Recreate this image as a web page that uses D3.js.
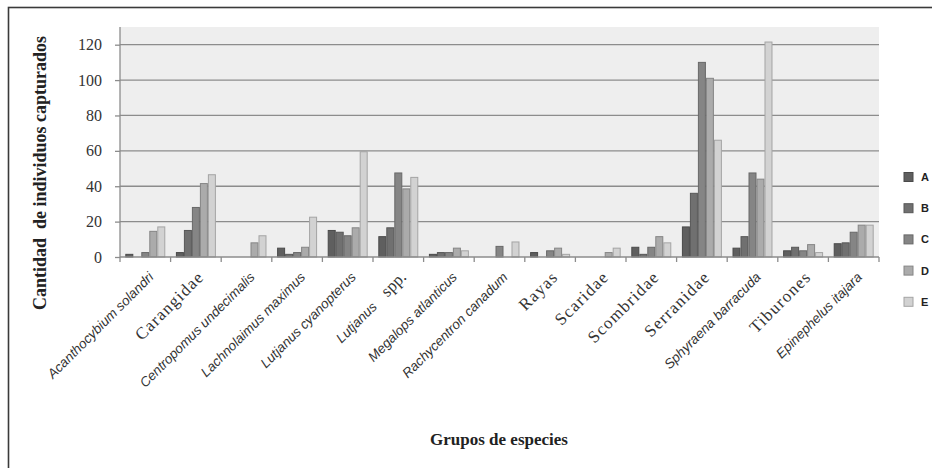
<!DOCTYPE html>
<html>
<head>
<meta charset="utf-8">
<script src="https://cdn.jsdelivr.net/npm/d3@7/dist/d3.min.js"></script>
<style>
  html, body { margin: 0; padding: 0; background: #fff; }
  svg { display: block; }
</style>
</head>
<body>
<svg id="chart" width="932" height="468"></svg>
<script>
// Captured individuals per species group, five sampling series (A–E)
const categories = [
  "Acanthocybium solandri", "Carangidae", "Centropomus undecimalis",
  "Lachnolaimus maximus", "Lutjanus cyanopterus", "Lutjanus spp.",
  "Megalops atlanticus", "Rachycentron canadum", "Rayas", "Scaridae",
  "Scombridae", "Serranidae", "Sphyraena barracuda", "Tiburones",
  "Epinephelus itajara"
];
const seriesNames = ["A", "B", "C", "D", "E"];
const valuesA = [1.5, 2.5, 0, 5, 15, 11.5, 1.5, 0, 2.5, 0, 5.5, 17, 5, 3.5, 7.5];
const valuesB = [0, 15, 0, 1.5, 14, 16.5, 2.5, 0, 0, 0, 1.5, 36, 11.5, 5.5, 8];
const valuesC = [2.5, 28, 0, 2.5, 12, 47.5, 2.5, 6, 3.5, 0, 5.5, 110, 47.5, 3.5, 14];
const valuesD = [14.5, 41.5, 8, 5.5, 16.5, 38.5, 5, 0, 5, 2.5, 11.5, 101, 44, 7, 18];
const valuesE = [17, 46.5, 12, 22.5, 59.5, 45, 3.5, 8.5, 1.5, 5, 8, 66, 121.5, 2.5, 18];
const yTicks = [0, 20, 40, 60, 80, 100, 120];
const yTitle = "Cantidad\u00a0 de individuos capturados";
const xTitle = "Grupos de especies";

const seriesValues = [valuesA, valuesB, valuesC, valuesD, valuesE];
const fills = ["#5f5f5f", "#707070", "#858585", "#ababab", "#d2d2d2"];

const svg = d3.select("#chart");
const W = 932, H = 468;
const plot = { left: 120, right: 879, top: 27, bottom: 257 };

// outer frame
svg.append("rect")
  .attr("x", 8.5).attr("y", 7.5)
  .attr("width", W + 10).attr("height", H + 10)
  .attr("fill", "#fff").attr("stroke", "#3a3a3a").attr("stroke-width", 1.6);

// plot background
svg.append("rect")
  .attr("x", plot.left).attr("y", plot.top)
  .attr("width", plot.right - plot.left).attr("height", plot.bottom - plot.top)
  .attr("fill", "#eeeeee");

const x0 = d3.scaleBand().domain(categories)
  .range([plot.left, plot.right]).paddingInner(0.21).paddingOuter(0.105);
const x1 = d3.scaleBand().domain(seriesNames).range([0, x0.bandwidth()]);
const y = d3.scaleLinear().domain([0, 130]).range([plot.bottom, plot.top]);

// horizontal gridlines
svg.append("g").selectAll("line").data(yTicks.filter(t => t > 0)).join("line")
  .attr("x1", plot.left).attr("x2", plot.right)
  .attr("y1", d => y(d)).attr("y2", d => y(d))
  .attr("stroke", "#8c8c8c").attr("stroke-width", 1.3);

// bars
const rows = [];
categories.forEach((c, i) => {
  seriesNames.forEach((s, j) => rows.push({ c, s, j, v: seriesValues[j][i] }));
});
svg.append("g").selectAll("rect").data(rows.filter(d => d.v > 0)).join("rect")
  .attr("x", d => x0(d.c) + x1(d.s) + 0.5)
  .attr("y", d => y(d.v))
  .attr("width", x1.bandwidth() - 1)
  .attr("height", d => y(0) - y(d.v))
  .attr("fill", d => fills[d.j])
  .attr("stroke", d => d3.color(fills[d.j]).darker(0.7))
  .attr("stroke-width", 1);

// y axis
const yAxis = d3.axisLeft(y).tickValues(yTicks).tickSize(5).tickPadding(13);
const gy = svg.append("g").attr("transform", `translate(${plot.left},0)`).call(yAxis);
gy.select(".domain").attr("d", `M0,${plot.top}V${plot.bottom + 0.5}`).attr("stroke", "#8c8c8c").attr("stroke-width", 1.3);
gy.selectAll(".tick line").attr("stroke", "#8c8c8c").attr("stroke-width", 1.3);
gy.selectAll(".tick text")
  .attr("font-family", "Liberation Serif, serif").attr("font-size", 16)
  .attr("fill", "#333");

// x axis: baseline and category separators
const step = x0.step();
const bounds = d3.range(categories.length + 1).map(i => plot.left + i * step);
svg.append("line")
  .attr("x1", plot.left).attr("x2", plot.right)
  .attr("y1", y(0)).attr("y2", y(0))
  .attr("stroke", "#8c8c8c").attr("stroke-width", 1.3);
svg.append("g").selectAll("line").data(bounds).join("line")
  .attr("x1", d => d).attr("x2", d => d)
  .attr("y1", y(0)).attr("y2", y(0) + 5)
  .attr("stroke", "#8c8c8c").attr("stroke-width", 1.3);

// rotated category labels: binomials in italic sans, group names in serif
const labels = svg.append("g").selectAll("text").data(categories).join("text")
  .attr("transform", d => `translate(${x0(d) + x0.bandwidth() / 2 + 9},${plot.bottom + 21}) rotate(-45)`)
  .attr("text-anchor", "end")
  .attr("fill", "#333");
labels.each(function (d) {
  const t = d3.select(this);
  if (d.endsWith(" spp.")) {
    t.append("tspan").text(d.replace(" spp.", ""))
      .attr("font-family", "Liberation Sans, sans-serif").attr("font-style", "italic").attr("font-size", 13.5);
    t.append("tspan").text("spp.").attr("dx", 14)
      .attr("font-family", "Liberation Serif, serif").attr("font-size", 17);
  } else if (d.includes(" ")) {
    t.text(d).attr("font-family", "Liberation Sans, sans-serif")
      .attr("font-style", "italic").attr("font-size", 13.5);
  } else {
    t.text(d).attr("font-family", "Liberation Serif, serif")
      .attr("font-size", 17).attr("letter-spacing", 1.2);
  }
});

// axis titles
svg.append("text")
  .attr("transform", `translate(46,${173}) rotate(-90)`)
  .attr("text-anchor", "middle")
  .attr("font-family", "Liberation Serif, serif").attr("font-weight", "bold")
  .attr("font-size", 18).attr("fill", "#222")
  .text(yTitle);
svg.append("text")
  .attr("x", 499).attr("y", 445)
  .attr("text-anchor", "middle")
  .attr("font-family", "Liberation Serif, serif").attr("font-weight", "bold")
  .attr("font-size", 17).attr("fill", "#222")
  .text(xTitle);

// legend
const legend = svg.append("g").selectAll("g").data(seriesNames).join("g")
  .attr("transform", (d, i) => `translate(904,${177 + i * 31.2})`);
legend.append("rect")
  .attr("x", 0).attr("y", -4.5).attr("width", 9).attr("height", 9)
  .attr("fill", (d, i) => fills[i])
  .attr("stroke", (d, i) => d3.color(fills[i]).darker(0.7));
legend.append("text")
  .attr("x", 17).attr("y", 4)
  .attr("font-family", "Liberation Sans, sans-serif").attr("font-weight", "bold")
  .attr("font-size", 11).attr("fill", "#222")
  .text(d => d);
</script>
</body>
</html>
